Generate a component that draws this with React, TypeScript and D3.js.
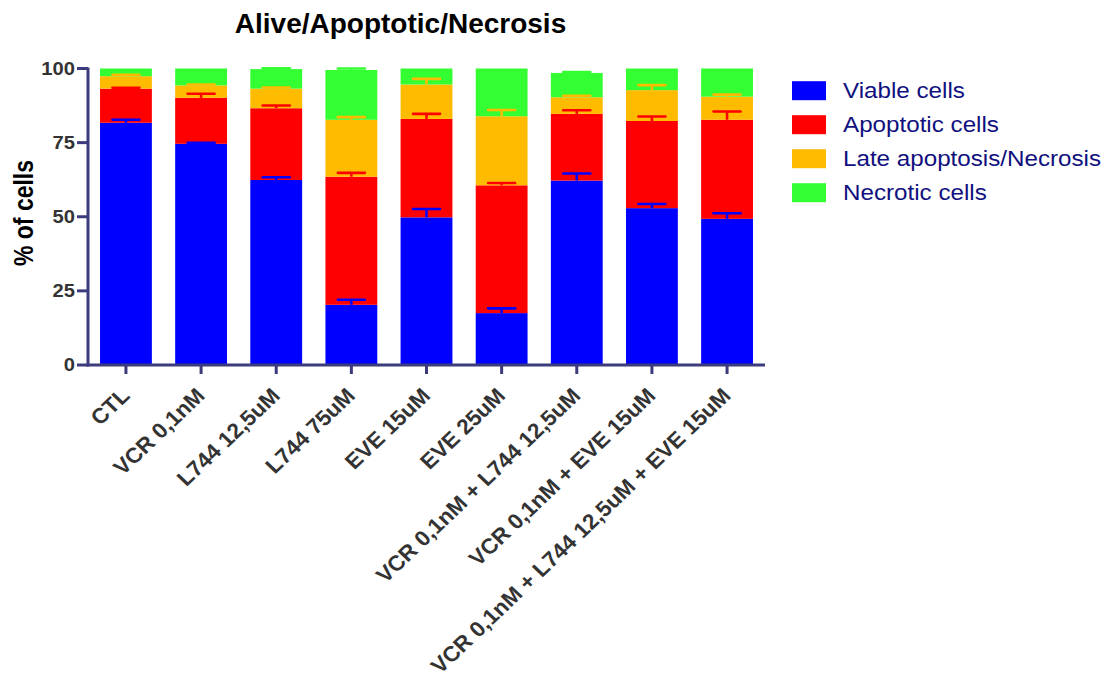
import React from "react";
import * as d3 from "d3";

const categories = [
  "CTL",
  "VCR 0,1nM",
  "L744 12,5uM",
  "L744 75uM",
  "EVE 15uM",
  "EVE 25uM",
  "VCR 0,1nM + L744 12,5uM",
  "VCR 0,1nM + EVE 15uM",
  "VCR 0,1nM + L744 12,5uM + EVE 15uM",
];
const seriesNames = ["Viable cells", "Apoptotic cells", "Late apoptosis/Necrosis", "Necrotic cells"];
const seriesColors = ["#0000ff", "#ff0000", "#ffbb00", "#33ff33"];

const viable = [81.7, 74.6, 62.4, 20.3, 49.8, 17.5, 62.2, 52.9, 49.3];
const apoptotic = [11.5, 15.5, 24.2, 43.2, 33.2, 43.1, 22.5, 29.4, 33.4];
const late = [4.2, 4.2, 6.6, 19.2, 11.6, 23.3, 5.6, 10.4, 7.8];
const necrotic = [2.6, 5.7, 6.6, 16.8, 5.4, 16.1, 8.2, 7.3, 9.5];

const viableSD = [1.0, 0.3, 0.9, 1.7, 2.8, 1.6, 2.4, 1.4, 1.9];
const apoptoticSD = [0.3, 1.4, 0.9, 1.3, 1.7, 0.8, 1.2, 1.5, 2.8];
const lateSD = [0.5, 0.3, 0.4, 0.9, 1.9, 2.1, 0.5, 1.7, 0.7];
const necroticSD = [0, 0, 0.3, 0.5, 0, 0, 0.3, 0, 0];

const yTicks = [0, 25, 50, 75, 100];

const W = 1111;
const H = 684;
const FONT = "'Liberation Sans', Arial, sans-serif";
const AXIS = "#3b3b7d";

export default function App() {
  const values = [viable, apoptotic, late, necrotic];
  const sds = [viableSD, apoptoticSD, lateSD, necroticSD];
  const keys = ["v", "a", "l", "n"];
  const table = categories.map((c, i) => {
    const row: any = { cat: c };
    keys.forEach((k, s) => (row[k] = values[s][i]));
    return row;
  });
  const stacked = d3.stack<any>().keys(keys)(table);

  const x = d3.scaleBand().domain(categories).range([88, 765]).paddingInner(0.31).paddingOuter(0.16);
  const y = d3.scaleLinear().domain([0, 100]).range([365, 68.5]);
  const bw = x.bandwidth();
  const capW = 27;
  const S = 1.12;

  return (
    <svg width={W} height={H} style={{ position: "absolute", left: 0, top: 0 }} fontFamily={FONT}>
      <rect width={W} height={H} fill="#fff" />
      {/* title */}
      <text x={400.5} y={33} textAnchor="middle" fontSize={28} fontWeight="bold" fill="#000">
        Alive/Apoptotic/Necrosis
      </text>
      {/* bars */}
      {stacked.map((layer, s) => (
        <g key={s}>
          {layer.map((d, i) => (
            <rect
              key={i}
              x={x(categories[i])!}
              y={y(d[1])}
              width={bw}
              height={Math.max(0, y(d[0]) - y(d[1]))}
              fill={seriesColors[s]}
            />
          ))}
        </g>
      ))}
      {/* error bars */}
      {stacked.map((layer, s) => (
        <g key={"e" + s} stroke={seriesColors[s]} strokeWidth={2.6}>
          {layer.map((d, i) => {
            const sd = sds[s][i];
            if (!sd) return null;
            const cx = x(categories[i])! + bw / 2;
            const top = y(d[1]);
            const tip = y(d[1] + sd);
            return (
              <g key={i}>
                <line x1={cx} x2={cx} y1={top} y2={tip} />
                <line x1={cx - capW / 2} x2={cx + capW / 2} y1={tip} y2={tip} strokeLinecap="round" />
              </g>
            );
          })}
        </g>
      ))}
      {/* y axis */}
      <line x1={88} x2={88} y1={y(100) - 1} y2={366.5} stroke={AXIS} strokeWidth={3} />
      {yTicks.map((t) => (
        <g key={t}>
          <line x1={77} x2={88} y1={y(t)} y2={y(t)} stroke={AXIS} strokeWidth={3} />
          <text
            transform={`translate(75,${y(t) + 6.4}) scale(${S},1)`}
            textAnchor="end"
            fontSize={18}
            fontWeight="bold"
            fill="#333"
          >
            {t}
          </text>
        </g>
      ))}
      <text
        transform={`translate(33,213) scale(1.17,1) rotate(-90)`}
        textAnchor="middle"
        fontSize={23}
        fontWeight="bold"
        fill="#000"
      >
        % of cells
      </text>
      {/* x axis */}
      <line x1={86.5} x2={765} y1={365} y2={365} stroke={AXIS} strokeWidth={3} />
      {categories.map((c) => {
        const cx = x(c)! + bw / 2;
        return (
          <g key={c}>
            <line x1={cx} x2={cx} y1={365} y2={374} stroke={AXIS} strokeWidth={3} />
            <text
              transform={`translate(${cx + 5},397) scale(1.05,1) rotate(-45)`}
              textAnchor="end"
              fontSize={21.5}
              fontWeight="bold"
              fill="#333"
            >
              {c}
            </text>
          </g>
        );
      })}
      {/* legend */}
      {seriesNames.map((n, s) => {
        const cy = 90.7 + s * 34;
        return (
          <g key={n}>
            <rect x={792} y={cy - 9.5} width={34} height={19} fill={seriesColors[s]} />
            <text
              transform={`translate(843,${cy + 7.6}) scale(1.1,1)`}
              fontSize={22}
              fill="#10107e"
            >
              {n}
            </text>
          </g>
        );
      })}
    </svg>
  );
}
